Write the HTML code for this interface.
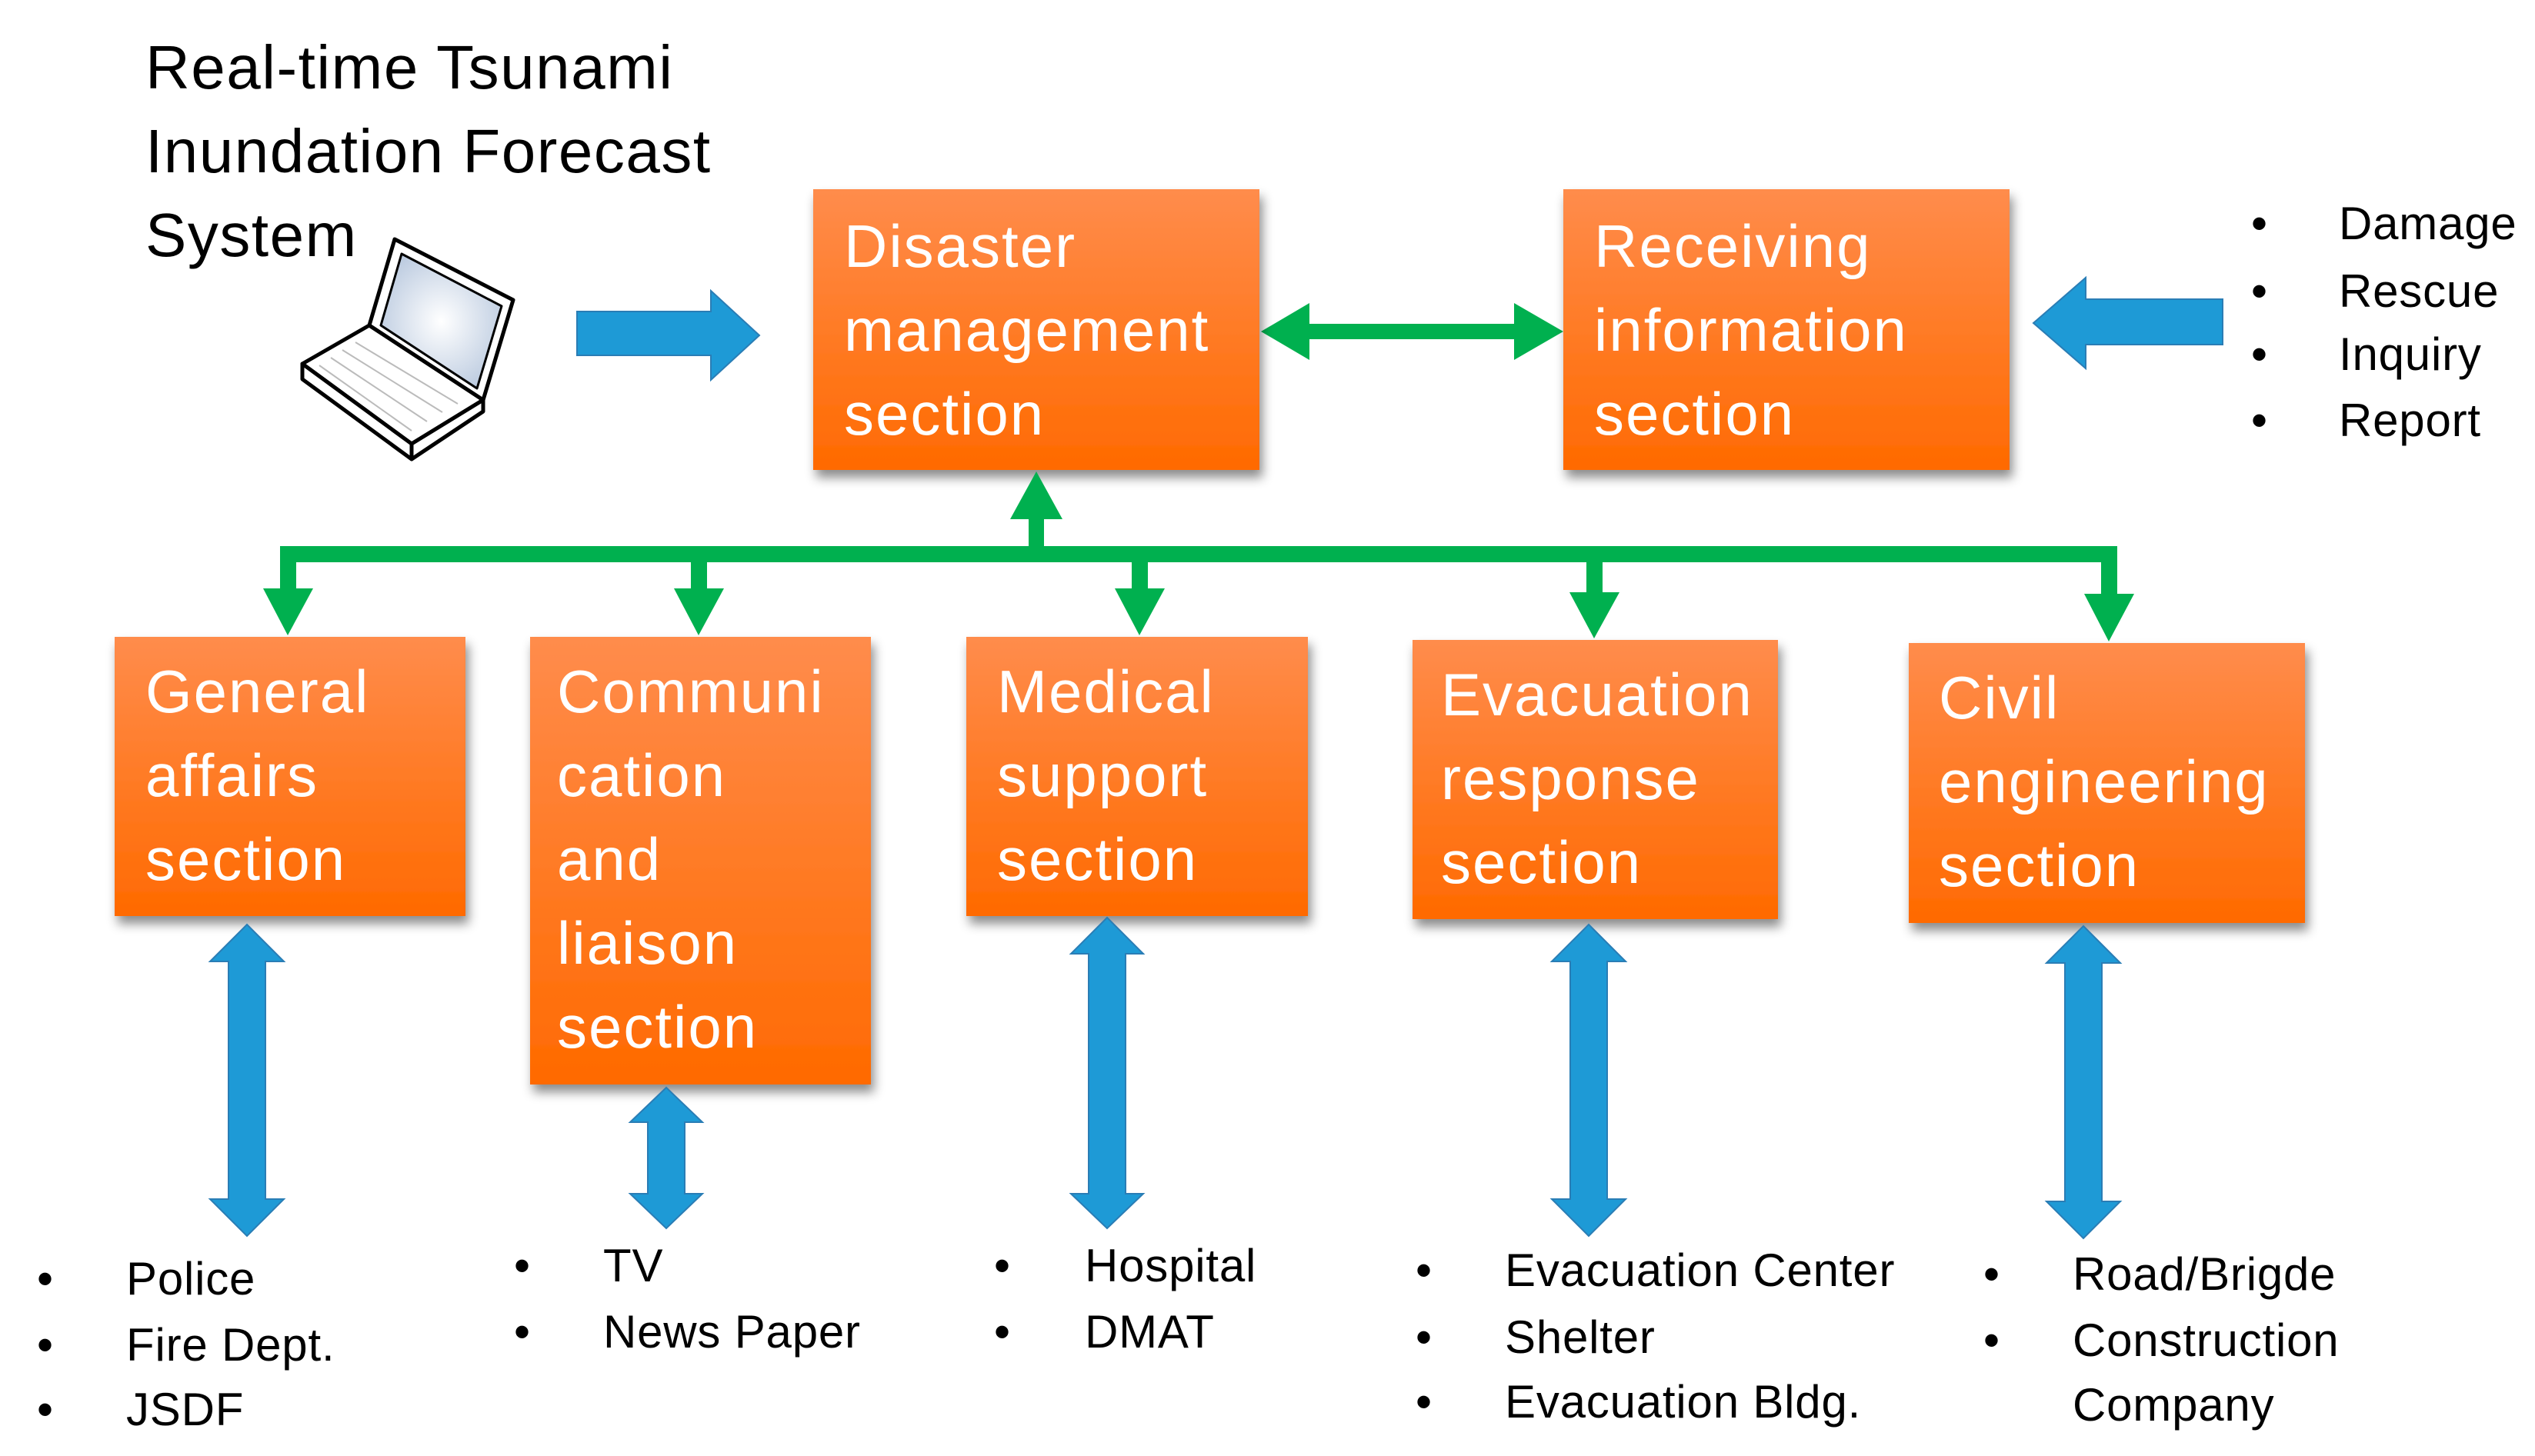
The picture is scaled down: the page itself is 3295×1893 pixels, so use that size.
<!DOCTYPE html>
<html><head><meta charset="utf-8"><style>
html,body{margin:0;padding:0;background:#fff;}
svg{display:block;}
text{font-family:"Liberation Sans",sans-serif;}
.bt{fill:#fff;font-size:78px;letter-spacing:2px;}
.bl{fill:#000;font-size:60px;letter-spacing:0.8px;}
.tt{fill:#000;font-size:80px;letter-spacing:1.5px;}
</style></head><body>
<svg width="3295" height="1893" viewBox="0 0 3295 1893" xmlns="http://www.w3.org/2000/svg">
<defs>
<linearGradient id="og" x1="0" y1="0" x2="0" y2="1"><stop offset="0" stop-color="#FF8C4C"/><stop offset="1" stop-color="#FF6A00"/></linearGradient>
<radialGradient id="sg" cx="0.5" cy="0.5" r="0.6"><stop offset="0" stop-color="#ffffff"/><stop offset="1" stop-color="#b8c8de"/></radialGradient>
<filter id="sh" x="-10%" y="-10%" width="130%" height="130%"><feDropShadow dx="4" dy="10" stdDeviation="7" flood-color="#000" flood-opacity="0.45"/></filter>
</defs>

<text class="tt" x="189" y="115">Real-time Tsunami</text>
<text class="tt" x="189" y="224">Inundation Forecast</text>
<text class="tt" x="189" y="333">System</text>

<g stroke="#000" stroke-width="5" stroke-linejoin="round" fill="#fff">
<polygon points="393,473 480,423 628,520 535,577"/>
<polygon points="393,473 393,493 535,597 535,577"/>
<polygon points="535,577 535,597 628,535 628,520"/>
<polygon points="513,311 667,390 628,520 480,423"/>
<polygon points="522,330 652,398 620,505 495,423" fill="url(#sg)" stroke-width="3"/>
</g>
<g stroke="#bbb" stroke-width="2" fill="none">
<line x1="415" y1="475" x2="535" y2="560"/><line x1="430" y1="465" x2="555" y2="548"/><line x1="445" y1="455" x2="575" y2="536"/><line x1="462" y1="445" x2="595" y2="525"/>
</g>

<polygon points="750,405 924,405 924,378 987,436 924,494 924,462 750,462" fill="#1E9AD6" stroke="#2A7DB5" stroke-width="2"/>
<polygon points="2889,389 2711,389 2711,361 2643,420 2711,479 2711,448 2889,448" fill="#1E9AD6" stroke="#2A7DB5" stroke-width="2"/>

<polygon points="1639,431 1702,394 1702,421 1968,421 1968,394 2032,431 1968,468 1968,441 1702,441 1702,468" fill="#00B04F"/>

<rect x="1057" y="246" width="580" height="365" fill="url(#og)" filter="url(#sh)"/>
<text class="bt" x="1097" y="347">Disaster</text>
<text class="bt" x="1097" y="456">management</text>
<text class="bt" x="1097" y="565">section</text>

<rect x="2032" y="246" width="580" height="365" fill="url(#og)" filter="url(#sh)"/>
<text class="bt" x="2072" y="347">Receiving</text>
<text class="bt" x="2072" y="456">information</text>
<text class="bt" x="2072" y="565">section</text>

<g fill="#00B04F">
<polygon points="1347,613 1313,675 1337,675 1337,720 1357,720 1357,675 1381,675"/>
<rect x="364" y="710" width="2388" height="21"/>
<rect x="364" y="710" width="21" height="65"/><polygon points="342,765 407,765 374,826"/>
<rect x="898" y="710" width="21" height="65"/><polygon points="876,765 941,765 908,826"/>
<rect x="1471" y="710" width="21" height="65"/><polygon points="1449,765 1514,765 1481,826"/>
<rect x="2062" y="710" width="21" height="70"/><polygon points="2040,770 2105,770 2072,830"/>
<rect x="2731" y="710" width="21" height="72"/><polygon points="2709,772 2774,772 2741,834"/>
</g>

<rect x="149" y="828" width="456" height="363" fill="url(#og)" filter="url(#sh)"/>
<text class="bt" x="189" y="926">General</text>
<text class="bt" x="189" y="1035">affairs</text>
<text class="bt" x="189" y="1144">section</text>

<rect x="689" y="828" width="443" height="582" fill="url(#og)" filter="url(#sh)"/>
<text class="bt" x="724" y="926">Communi</text>
<text class="bt" x="724" y="1035">cation</text>
<text class="bt" x="724" y="1144">and</text>
<text class="bt" x="724" y="1253">liaison</text>
<text class="bt" x="724" y="1362">section</text>

<rect x="1256" y="828" width="444" height="363" fill="url(#og)" filter="url(#sh)"/>
<text class="bt" x="1296" y="926">Medical</text>
<text class="bt" x="1296" y="1035">support</text>
<text class="bt" x="1296" y="1144">section</text>

<rect x="1836" y="832" width="475" height="363" fill="url(#og)" filter="url(#sh)"/>
<text class="bt" x="1873" y="930">Evacuation</text>
<text class="bt" x="1873" y="1039">response</text>
<text class="bt" x="1873" y="1148">section</text>

<rect x="2481" y="836" width="515" height="364" fill="url(#og)" filter="url(#sh)"/>
<text class="bt" x="2520" y="934">Civil</text>
<text class="bt" x="2520" y="1043">engineering</text>
<text class="bt" x="2520" y="1152">section</text>

<g fill="#1E9AD6" stroke="#2A7DB5" stroke-width="2">
<polygon points="321,1202 369,1250 345,1250 345,1559 369,1559 321,1607 273,1559 297,1559 297,1250 273,1250"/>
<polygon points="866,1414 913,1459 890,1459 890,1552 913,1552 866,1597 819,1552 842,1552 842,1459 819,1459"/>
<polygon points="1439,1193 1486,1240 1463,1240 1463,1552 1486,1552 1439,1597 1392,1552 1415,1552 1415,1240 1392,1240"/>
<polygon points="2065,1202 2113,1250 2089,1250 2089,1559 2113,1559 2065,1607 2017,1559 2041,1559 2041,1250 2017,1250"/>
<polygon points="2708,1204 2756,1252 2732,1252 2732,1562 2756,1562 2708,1610 2660,1562 2684,1562 2684,1252 2660,1252"/>
</g>

<g class="bl">
<text class="bl" x="2926" y="311">•</text><text class="bl" x="3040" y="311">Damage</text>
<text class="bl" x="2926" y="399">•</text><text class="bl" x="3040" y="399">Rescue</text>
<text class="bl" x="2926" y="481">•</text><text class="bl" x="3040" y="481">Inquiry</text>
<text class="bl" x="2926" y="567">•</text><text class="bl" x="3040" y="567">Report</text>

<text class="bl" x="48" y="1683">•</text><text class="bl" x="164" y="1683">Police</text>
<text class="bl" x="48" y="1769">•</text><text class="bl" x="164" y="1769">Fire Dept.</text>
<text class="bl" x="48" y="1853">•</text><text class="bl" x="164" y="1853">JSDF</text>

<text class="bl" x="668" y="1666">•</text><text class="bl" x="784" y="1666">TV</text>
<text class="bl" x="668" y="1752">•</text><text class="bl" x="784" y="1752">News Paper</text>

<text class="bl" x="1292" y="1666">•</text><text class="bl" x="1410" y="1666">Hospital</text>
<text class="bl" x="1292" y="1752">•</text><text class="bl" x="1410" y="1752">DMAT</text>

<text class="bl" x="1840" y="1672">•</text><text class="bl" x="1956" y="1672">Evacuation Center</text>
<text class="bl" x="1840" y="1759">•</text><text class="bl" x="1956" y="1759">Shelter</text>
<text class="bl" x="1840" y="1843">•</text><text class="bl" x="1956" y="1843">Evacuation Bldg.</text>

<text class="bl" x="2578" y="1677">•</text><text class="bl" x="2694" y="1677">Road/Brigde</text>
<text class="bl" x="2578" y="1763">•</text><text class="bl" x="2694" y="1763">Construction</text>
<text class="bl" x="2694" y="1847">Company</text>
</g>
</svg>
</body></html>
